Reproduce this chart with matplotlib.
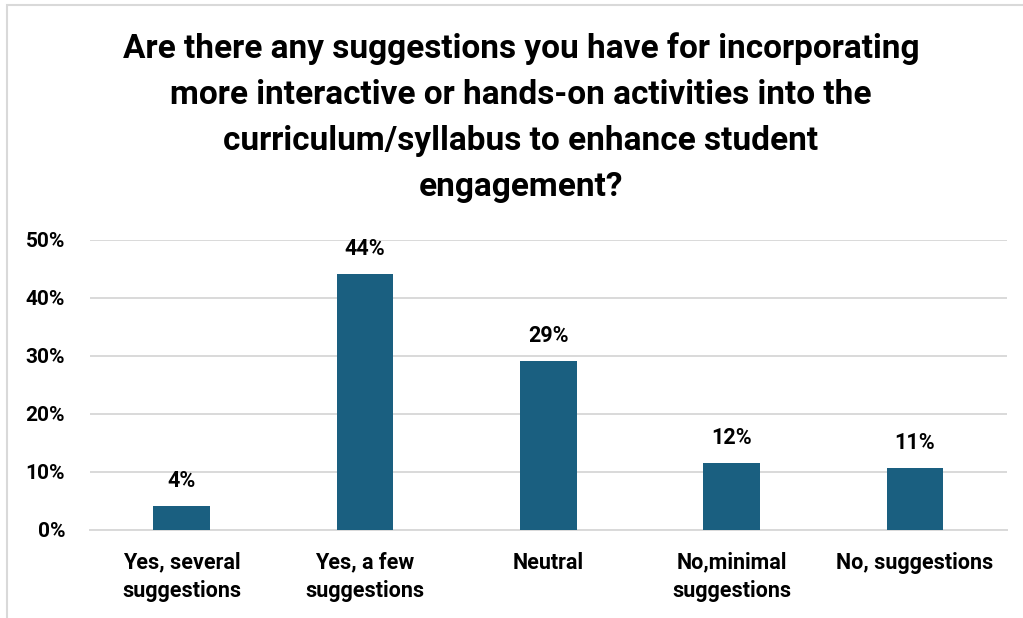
import numpy as np
import matplotlib
matplotlib.use("Agg")
import matplotlib.pyplot as plt
from matplotlib.patches import Rectangle
from matplotlib.ticker import PercentFormatter

# survey answers and share of respondents
categories = ["Yes, several\nsuggestions", "Yes, a few\nsuggestions", "Neutral",
              "No,minimal\nsuggestions", "No, suggestions"]
shares = [0.041, 0.441, 0.292, 0.116, 0.107]
labels = ["4%", "44%", "29%", "12%", "11%"]
title = ("Are there any suggestions you have for incorporating\n"
         "more interactive or hands-on activities into the\n"
         "curriculum/syllabus to enhance student\n"
         "engagement?")

plt.rcParams['font.family'] = ['Roboto', 'DejaVu Sans']

fig = plt.figure(figsize=(10.23, 6.18), dpi=100)
ax = fig.add_axes([0.088, 0.1424, 0.896, 0.4693])

x = np.arange(len(categories))
bars = ax.bar(x, shares, width=0.31, color='#1a5f80', zorder=3)

for b, lab in zip(bars, labels):
    ax.annotate(lab, (b.get_x() + b.get_width() / 2, b.get_height()),
                xytext=(0, 10), textcoords='offset points', ha='center', va='bottom',
                fontsize=15.5, fontweight='bold', color='black')

ax.set_xlim(-0.5, len(categories) - 0.5)
ax.set_ylim(0, 0.5)
ax.set_yticks(np.arange(0, 0.51, 0.1))
ax.yaxis.set_major_formatter(PercentFormatter(1.0, decimals=0))
ax.set_xticks(x)
ax.set_xticklabels(categories, fontsize=15.5, fontweight='bold', linespacing=1.4)
ax.tick_params(axis='x', length=0, pad=15.5)
ax.tick_params(axis='y', length=0, pad=18, labelsize=15)
for t in ax.get_yticklabels():
    t.set_fontweight('bold')

ax.grid(axis='y', color='#d9d9d9', linewidth=1.4, zorder=0)
for s in ['top', 'right', 'left']:
    ax.spines[s].set_visible(False)
ax.spines['bottom'].set_color('#d9d9d9')
ax.spines['bottom'].set_linewidth(1.4)

fig.text(521 / 1023, 1 - 32 / 618, title, ha='center', va='top',
         fontsize=24, fontweight='bold', linespacing=1.56)

# chart border, cut off at right and bottom
fig.patches.append(Rectangle((7 / 1023, -0.1), 1.1, 1 - 5 / 618 + 0.1,
                             transform=fig.transFigure, fill=False,
                             edgecolor='#d9d9d9', linewidth=1.5))

fig.savefig("out.png", dpi=100)
